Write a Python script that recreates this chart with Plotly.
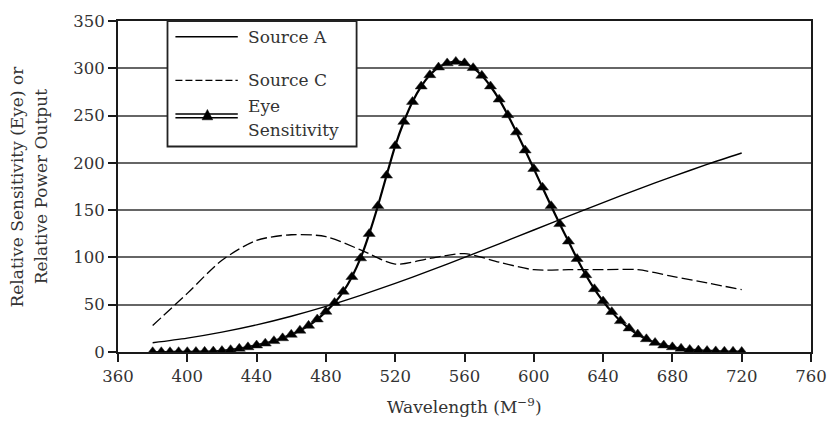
import plotly.graph_objects as go

# ---------------- data ----------------
wl_20 = [380, 400, 420, 440, 460, 480, 500, 520, 540, 560, 580, 600, 620, 640, 660, 680, 700, 720]
source_a = [9.8, 14.7, 21.0, 28.7, 37.8, 48.2, 59.9, 72.5, 86.0, 100.0, 114.4, 129.0,
            143.6, 158.0, 172.0, 185.4, 198.3, 210.4]
source_c = [28, 62, 97, 118, 124, 122, 108, 93, 99, 104, 95, 87, 87, 87, 87, 80, 73, 66]

wl_5 = [380, 385, 390, 395, 400, 405, 410, 415, 420, 425, 430, 435, 440, 445, 450, 455,
        460, 465, 470, 475, 480, 485, 490, 495, 500, 505, 510, 515, 520, 525, 530, 535,
        540, 545, 550, 555, 560, 565, 570, 575, 580, 585, 590, 595, 600, 605, 610, 615,
        620, 625, 630, 635, 640, 645, 650, 655, 660, 665, 670, 675, 680, 685, 690, 695,
        700, 705, 710, 715, 720]
eye = [0.0, 0.0, 0.0, 0.1, 0.1, 0.2, 0.4, 0.7, 1.2, 2.2, 3.6, 5.2, 7.1, 9.1, 11.7, 14.7,
       18.4, 22.7, 27.9, 34.6, 42.7, 52.0, 63.9, 79.4, 99.2, 125.0, 154.4, 186.7, 218.0, 243.5, 264.6, 280.9,
       292.9, 301.0, 305.4, 307.0, 305.5, 300.4, 292.3, 281.0, 267.1, 250.6, 232.4, 213.3, 193.7, 174.0, 154.4, 135.4,
       117.0, 98.5, 81.4, 66.6, 53.7, 42.4, 32.8, 25.1, 18.7, 13.7, 9.8, 7.1, 5.2, 3.7, 2.5, 1.8,
       1.3, 0.9, 0.6, 0.5, 0.3]

x_ticks = [360, 400, 440, 480, 520, 560, 600, 640, 680, 720, 760]
y_ticks = [0, 50, 100, 150, 200, 250, 300, 350]
series_names = ["Source A", "Source C", "Eye", "Sensitivity"]

FONT = "DejaVu Serif"
TXT = "#333333"

# ---------------- figure ----------------
fig = go.Figure()
fig.add_trace(go.Scatter(x=wl_20, y=source_a, mode="lines", name="Source A",
                         line=dict(color="black", width=1.4, shape="spline", smoothing=0.8)))
fig.add_trace(go.Scatter(x=wl_20, y=source_c, mode="lines", name="Source C",
                         line=dict(color="black", width=1.3, dash="11px,4px", shape="spline", smoothing=0.8)))
fig.add_trace(go.Scatter(x=wl_5, y=eye, mode="lines+markers", name="Eye Sensitivity",
                         line=dict(color="black", width=2.2, shape="spline", smoothing=0.6),
                         marker=dict(symbol="triangle-up", size=10.5, color="black",
                                     line=dict(color="#222", width=0.5))))

# plot area in pixels: x 118..818, y 17..352
L, R, T, B = 118, 818, 17, 352
W, H = 839, 423

def px(xp):
    return (xp - L) / (R - L)

def py(yp):
    return (B - yp) / (B - T)

shapes = []
# legend box
shapes.append(dict(type="rect", xref="paper", yref="paper", x0=px(168), x1=px(359), y0=py(144), y1=py(17),
                   fillcolor="white", line=dict(color="#222", width=1.8), layer="above"))
shapes.append(dict(type="line", xref="paper", yref="paper", x0=px(176), x1=px(239), y0=py(33), y1=py(33),
                   line=dict(color="black", width=1.4), layer="above"))
shapes.append(dict(type="line", xref="paper", yref="paper", x0=px(176), x1=px(239), y0=py(77), y1=py(77),
                   line=dict(color="black", width=1.3, dash="7px,3px"), layer="above"))
for yy in (111, 115):
    shapes.append(dict(type="line", xref="paper", yref="paper", x0=px(176), x1=px(239), y0=py(yy), y1=py(yy),
                       line=dict(color="black", width=1.5), layer="above"))
cx, cy = 208.3, 112
tri = "M {a},{b} L {c},{d} L {e},{f} Z".format(
    a=px(cx - 5.4), b=py(cy + 5), c=px(cx + 5.4), d=py(cy + 5), e=px(cx), f=py(cy - 5.5))
shapes.append(dict(type="path", xref="paper", yref="paper", path=tri,
                   fillcolor="black", line=dict(color="black", width=0.5), layer="above"))

annotations = []
for text, yp in zip(series_names, [33, 77, 103, 127]):
    annotations.append(dict(text=text, xref="paper", yref="paper", x=px(247), y=py(yp),
                            xanchor="left", yanchor="middle", showarrow=False,
                            font=dict(family=FONT, size=17, color=TXT)))
# axis titles
annotations.append(dict(text="Relative Sensitivity (Eye) or", xref="paper", yref="paper",
                        x=px(15), y=0.5, xanchor="center", yanchor="middle", textangle=-90,
                        showarrow=False, font=dict(family=FONT, size=17, color=TXT)))
annotations.append(dict(text="Relative Power Output", xref="paper", yref="paper",
                        x=px(40), y=0.5, xanchor="center", yanchor="middle", textangle=-90,
                        showarrow=False, font=dict(family=FONT, size=17, color=TXT)))
annotations.append(dict(text="Wavelength (M<sup>\u22129</sup>)", xref="paper", yref="paper",
                        x=0.5, y=py(407), xanchor="center", yanchor="middle",
                        showarrow=False, font=dict(family=FONT, size=17, color=TXT)))

fig.update_layout(
    width=W, height=H,
    margin=dict(l=L, r=W - R, t=T, b=H - B),
    paper_bgcolor="white", plot_bgcolor="white",
    showlegend=False,
    shapes=shapes, annotations=annotations,
    font=dict(family=FONT, color=TXT),
)
fig.update_xaxes(range=[360, 760], tickvals=x_ticks, ticktext=[str(v) for v in x_ticks],
                 showgrid=False, zeroline=False,
                 showline=True, linecolor="#1a1a1a", linewidth=2, mirror=True,
                 ticks="outside", ticklen=8, tickwidth=2, tickcolor="#1a1a1a",
                 tickfont=dict(family=FONT, size=16.5, color=TXT))
fig.update_yaxes(range=[0, 350], tickvals=y_ticks, ticktext=[str(v) for v in y_ticks],
                 showgrid=True, gridcolor="#666666", gridwidth=1.5, zeroline=False,
                 showline=True, linecolor="#1a1a1a", linewidth=2, mirror=True,
                 ticks="outside", ticklen=8, tickwidth=2, tickcolor="#1a1a1a",
                 tickfont=dict(family=FONT, size=16.5, color=TXT))

fig.write_html("out.html", config={"displayModeBar": False},
               post_script="document.body.style.margin='0';document.body.style.overflow='hidden';")
